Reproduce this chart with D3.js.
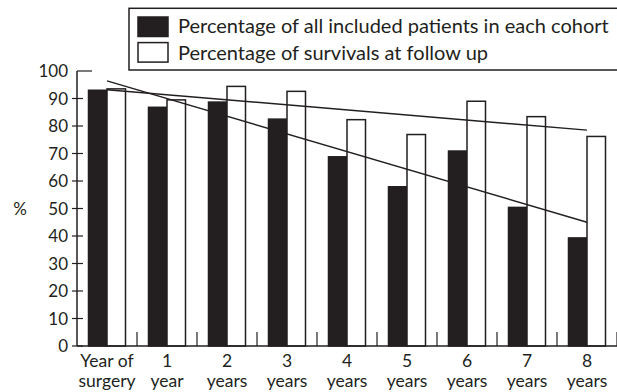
<!DOCTYPE html>
<html>
<head>
<meta charset="utf-8">
<script src="https://cdn.jsdelivr.net/npm/d3@7"></script>
<style>
  body { margin: 0; background: #fff; }
  text { font-family: Lato, "DejaVu Sans", sans-serif; fill: #231f20; }
</style>
</head>
<body>
<div id="canvas"></div>
<script>
// Data

let categories = ["Year of|surgery", "1|year", "2|years", "3|years", "4|years", "5|years", "6|years", "7|years", "8|years"];
let allIncluded = [93, 86.8, 88.7, 82.5, 68.8, 57.9, 70.9, 50.4, 39.3];
let survivals = [93.5, 89.5, 94.4, 92.6, 82.3, 76.9, 89, 83.4, 76.2];
let seriesNames = ["Percentage of all included patients in each cohort", "Percentage of survivals at follow up"];
let yTicks = [0, 10, 20, 30, 40, 50, 60, 70, 80, 90, 100];

// Trend lines, value at first and last category
let trendAll = [96.4, 45.0];
let trendSurv = [93.2, 78.5];

// Setting dimensions

let W = 617, H = 392;
let margin = {top: 71, right: 0, bottom: 46, left: 77};
let width = W - margin.left - margin.right;
let height = H - margin.top - margin.bottom;

let svg = d3.select("#canvas")
    .append("svg")
    .attr("width", W)
    .attr("height", H);

let g = svg.append("g")
    .attr("transform", "translate(" + margin.left + ", " + margin.top + ")");

// Scales

let xScale = d3.scaleBand()
    .domain(categories)
    .range([0, width]);

let xInner = d3.scaleBand()
    .domain(["all", "surv"])
    .range([11.5, xScale.bandwidth() - 11.5]);

let yScale = d3.scaleLinear()
    .domain([0, 100])
    .range([height, 0]);

// Bars

let rows = categories.map((c, i) => ({cat: c, all: allIncluded[i], surv: survivals[i]}));

g.selectAll(".bar-all")
    .data(rows)
    .enter()
    .append("rect")
    .attr("x", d => xScale(d.cat) + xInner("all"))
    .attr("y", d => yScale(d.all))
    .attr("width", xInner.bandwidth())
    .attr("height", d => height - yScale(d.all))
    .style("fill", "#231f20")
    .style("stroke", "#231f20")
    .style("stroke-width", 1.5);

g.selectAll(".bar-surv")
    .data(rows)
    .enter()
    .append("rect")
    .attr("x", d => xScale(d.cat) + xInner("surv"))
    .attr("y", d => yScale(d.surv))
    .attr("width", xInner.bandwidth())
    .attr("height", d => height - yScale(d.surv))
    .style("fill", "#fff")
    .style("stroke", "#231f20")
    .style("stroke-width", 1.5);

// Trend lines

let mid = c => xScale(c) + xScale.bandwidth() / 2;
let first = categories[0], last = categories[categories.length - 1];

[trendAll, trendSurv].forEach(t => {
    g.append("line")
        .attr("x1", mid(first))
        .attr("y1", yScale(t[0]))
        .attr("x2", mid(last))
        .attr("y2", yScale(t[1]))
        .style("stroke", "#231f20")
        .style("stroke-width", 1.5);
});

// Y axis

g.append("line")
    .attr("x1", 0).attr("x2", 0)
    .attr("y1", yScale(100)).attr("y2", height)
    .style("stroke", "#231f20")
    .style("stroke-width", 1.5);

g.selectAll(".ytick")
    .data(yTicks)
    .enter()
    .append("line")
    .attr("x1", d => d == 100 ? 0 : -5)
    .attr("x2", d => d == 100 ? 15 : 6)
    .attr("y1", d => yScale(d))
    .attr("y2", d => yScale(d))
    .style("stroke", "#231f20")
    .style("stroke-width", 1.2);

g.selectAll(".ylab")
    .data(yTicks)
    .enter()
    .append("text")
    .attr("x", -9)
    .attr("y", d => yScale(d) + 6)
    .style("font-size", "17px")
    .style("text-anchor", "end")
    .text(d => d);

g.append("text")
    .attr("x", -57)
    .attr("y", yScale(50) + 6)
    .style("font-size", "17px")
    .style("text-anchor", "middle")
    .text("%");

// X axis

g.append("line")
    .attr("x1", 0).attr("x2", width)
    .attr("y1", height).attr("y2", height)
    .style("stroke", "#231f20")
    .style("stroke-width", 1.5);

g.selectAll(".xtick")
    .data(categories)
    .enter()
    .append("line")
    .attr("x1", d => xScale(d) + xScale.bandwidth())
    .attr("x2", d => xScale(d) + xScale.bandwidth())
    .attr("y1", height)
    .attr("y2", height - 14)
    .style("stroke", "#231f20")
    .style("stroke-width", 1.2);

let xl = g.selectAll(".xlab")
    .data(categories)
    .enter()
    .append("text")
    .style("font-size", "17.5px")
    .style("text-anchor", "middle");

xl.append("tspan")
    .attr("x", d => mid(d))
    .attr("y", height + 21)
    .text(d => d.split("|")[0]);

xl.append("tspan")
    .attr("x", d => mid(d))
    .attr("y", height + 41)
    .text(d => d.split("|")[1]);

// Legend

let legend = svg.append("g");

legend.append("rect")
    .attr("x", 129)
    .attr("y", 8.3)
    .attr("width", 500)
    .attr("height", 61.7)
    .style("fill", "#fff")
    .style("stroke", "#231f20")
    .style("stroke-width", 1.5);

seriesNames.forEach((name, i) => {
    legend.append("rect")
        .attr("x", 138)
        .attr("y", 17 + i * 25.6)
        .attr("width", 30)
        .attr("height", 19.5)
        .style("fill", i == 0 ? "#231f20" : "#fff")
        .style("stroke", "#231f20")
        .style("stroke-width", 1.5);

    legend.append("text")
        .attr("x", 178)
        .attr("y", 33.3 + i * 26.7)
        .style("font-size", "20px")
        .text(name);
});
</script>
</body>
</html>
